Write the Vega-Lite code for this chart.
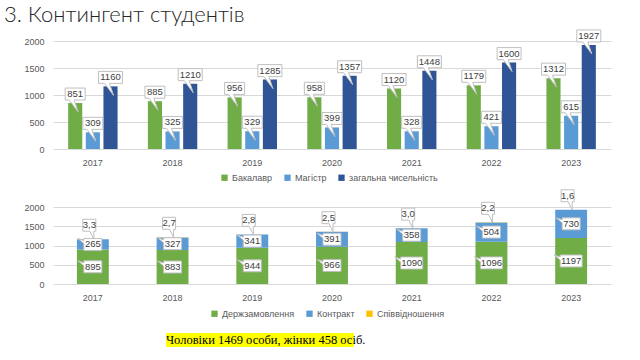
{
  "$schema": "https://vega.github.io/schema/vega-lite/v6.json",
  "background": "white",
  "padding": {"left": 3, "top": 3, "right": 5, "bottom": 0},
  "title": {"text": "3. Контингент студентів", "anchor": "start", "frame": "bounds", "font": "Lato", "fontSize": 22, "fontWeight": 300, "color": "#262626", "offset": 1, "dx": -20},
  "config": {
    "view": {"stroke": null},
    "font": "Liberation Sans",
    "axis": {"labelFont": "Liberation Sans", "labelFontSize": 9, "labelColor": "#595959", "gridColor": "#D9D9D9", "domain": false, "ticks": false, "title": null},
    "legend": {"labelFont": "Liberation Sans", "labelFontSize": 9, "labelColor": "#595959"}
  },
  "datasets": {
    "top": [
      {"year": "2017", "series": "Бакалавр", "value": 851},
      {"year": "2017", "series": "Магістр", "value": 309},
      {"year": "2017", "series": "загальна чисельність", "value": 1160},
      {"year": "2018", "series": "Бакалавр", "value": 885},
      {"year": "2018", "series": "Магістр", "value": 325},
      {"year": "2018", "series": "загальна чисельність", "value": 1210},
      {"year": "2019", "series": "Бакалавр", "value": 956},
      {"year": "2019", "series": "Магістр", "value": 329},
      {"year": "2019", "series": "загальна чисельність", "value": 1285},
      {"year": "2020", "series": "Бакалавр", "value": 958},
      {"year": "2020", "series": "Магістр", "value": 399},
      {"year": "2020", "series": "загальна чисельність", "value": 1357},
      {"year": "2021", "series": "Бакалавр", "value": 1120},
      {"year": "2021", "series": "Магістр", "value": 328},
      {"year": "2021", "series": "загальна чисельність", "value": 1448},
      {"year": "2022", "series": "Бакалавр", "value": 1179},
      {"year": "2022", "series": "Магістр", "value": 421},
      {"year": "2022", "series": "загальна чисельність", "value": 1600},
      {"year": "2023", "series": "Бакалавр", "value": 1312},
      {"year": "2023", "series": "Магістр", "value": 615},
      {"year": "2023", "series": "загальна чисельність", "value": 1927}
    ],
    "bottom": [
      {"year": "2017", "series": "Держзамовлення", "value": 895},
      {"year": "2017", "series": "Контракт", "value": 265},
      {"year": "2017", "series": "Співвідношення", "value": 3.3},
      {"year": "2018", "series": "Держзамовлення", "value": 883},
      {"year": "2018", "series": "Контракт", "value": 327},
      {"year": "2018", "series": "Співвідношення", "value": 2.7},
      {"year": "2019", "series": "Держзамовлення", "value": 944},
      {"year": "2019", "series": "Контракт", "value": 341},
      {"year": "2019", "series": "Співвідношення", "value": 2.8},
      {"year": "2020", "series": "Держзамовлення", "value": 966},
      {"year": "2020", "series": "Контракт", "value": 391},
      {"year": "2020", "series": "Співвідношення", "value": 2.5},
      {"year": "2021", "series": "Держзамовлення", "value": 1090},
      {"year": "2021", "series": "Контракт", "value": 358},
      {"year": "2021", "series": "Співвідношення", "value": 3.0},
      {"year": "2022", "series": "Держзамовлення", "value": 1096},
      {"year": "2022", "series": "Контракт", "value": 504},
      {"year": "2022", "series": "Співвідношення", "value": 2.2},
      {"year": "2023", "series": "Держзамовлення", "value": 1197},
      {"year": "2023", "series": "Контракт", "value": 730},
      {"year": "2023", "series": "Співвідношення", "value": 1.6}
    ]
  },
  "resolve": {"scale": {"color": "independent", "x": "independent", "y": "independent"}, "legend": {"color": "independent"}},
  "spacing": 4,
  "vconcat": [
    {
      "width": 558,
      "height": 108,
      "data": {"name": "top"},
      "encoding": {
        "x": {"field": "year", "type": "nominal", "scale": {"paddingInner": 0.38, "paddingOuter": 0.19}, "axis": {"labelAngle": 0, "labelPadding": 9}},
        "xOffset": {"field": "series", "type": "nominal", "scale": {"domain": ["Бакалавр", "Магістр", "загальна чисельність"], "paddingInner": 0.2}},
        "y": {"field": "value", "type": "quantitative", "scale": {"domain": [0, 2000]}, "axis": {"values": [0, 500, 1000, 1500, 2000], "format": "d", "labelPadding": 9}}
      },
      "layer": [
        {
          "mark": {"type": "bar"},
          "encoding": {
            "color": {"field": "series", "type": "nominal", "scale": {"domain": ["Бакалавр", "Магістр", "загальна чисельність"], "range": ["#70AD47", "#5B9BD5", "#2F5597"]},
              "legend": {"title": null, "orient": "none", "legendX": 167, "legendY": 132, "direction": "horizontal", "symbolType": "square", "symbolSize": 40, "symbolStrokeWidth": 0, "columnPadding": 10, "labelOffset": 3}}
          }
        },
        {
          "mark": {"type": "point", "filled": true, "fill": "white", "stroke": "#BFBFBF", "strokeWidth": 1, "size": 4, "opacity": 1},
          "encoding": {"shape": {"condition": {"test": "datum.value >= 1000", "value": "M-12,-15H12V-3H-1L3,9L-6,-3H-12Z"}, "value": "M-10,-15H10V-3H-1L3,9L-6,-3H-10Z"}}
        },
        {
          "mark": {"type": "text", "fontSize": 9.5, "color": "#404040", "baseline": "middle", "dy": -9},
          "encoding": {"text": {"field": "value", "type": "quantitative", "format": "d"}}
        }
      ]
    },
    {
      "width": 558,
      "height": 77,
      "data": {"name": "bottom"},
      "transform": [
        {"stack": "value", "groupby": ["year"], "sort": [{"field": "series", "order": "ascending"}], "as": ["v0", "v1"]},
        {"calculate": "(datum.v0 + datum.v1) / 2", "as": "mid"},
        {"calculate": "datum.series === 'Співвідношення' ? replace(format(datum.value, '.1f'), '.', ',') : format(datum.value, 'd')", "as": "label"}
      ],
      "encoding": {
        "x": {"field": "year", "type": "nominal", "scale": {"paddingInner": 0.6, "paddingOuter": 0.3}, "axis": {"labelAngle": 0, "labelPadding": 9}}
      },
      "layer": [
        {
          "mark": {"type": "bar"},
          "encoding": {
            "y": {"field": "v1", "type": "quantitative", "scale": {"domain": [0, 2000]}, "axis": {"values": [0, 500, 1000, 1500, 2000], "format": "d", "labelPadding": 9}},
            "y2": {"field": "v0"},
            "color": {"field": "series", "type": "nominal", "scale": {"domain": ["Держзамовлення", "Контракт", "Співвідношення"], "range": ["#70AD47", "#5B9BD5", "#FFC000"]},
              "legend": {"title": null, "orient": "none", "legendX": 157, "legendY": 102, "direction": "horizontal", "symbolType": "square", "symbolSize": 40, "symbolStrokeWidth": 0, "columnPadding": 10, "labelOffset": 3}}
          }
        },
        {
          "transform": [{"filter": "datum.series !== 'Співвідношення'"}],
          "mark": {"type": "point", "filled": true, "fill": "white", "stroke": "#BFBFBF", "strokeWidth": 1, "size": 4, "opacity": 1},
          "encoding": {
            "y": {"field": "mid", "type": "quantitative", "scale": {"domain": [0, 2000]}, "axis": {"values": [0, 500, 1000, 1500, 2000], "format": "d", "labelPadding": 9}},
            "shape": {"condition": {"test": "datum.value >= 1000", "value": "M-11,-6H11V6H-11V-1L-17,-6L-11,-4Z"}, "value": "M-9,-6H9V6H-9V-1L-15,-6L-9,-4Z"}
          }
        },
        {
          "transform": [{"filter": "datum.series !== 'Співвідношення'"}],
          "mark": {"type": "text", "fontSize": 9.5, "color": "#404040", "baseline": "middle"},
          "encoding": {"y": {"field": "mid", "type": "quantitative", "scale": {"domain": [0, 2000]}, "axis": {"values": [0, 500, 1000, 1500, 2000], "format": "d", "labelPadding": 9}}, "text": {"field": "label"}}
        },
        {
          "transform": [{"filter": "datum.series === 'Співвідношення'"}],
          "mark": {"type": "point", "filled": true, "fill": "white", "stroke": "#BFBFBF", "strokeWidth": 1, "size": 4, "opacity": 1, "shape": "M-10,-20H3V-8H1L1,0L-3,-8H-10Z"},
          "encoding": {"y": {"field": "v1", "type": "quantitative", "scale": {"domain": [0, 2000]}, "axis": {"values": [0, 500, 1000, 1500, 2000], "format": "d", "labelPadding": 9}}}
        },
        {
          "transform": [{"filter": "datum.series === 'Співвідношення'"}],
          "mark": {"type": "text", "fontSize": 9.5, "color": "#404040", "baseline": "middle", "dx": -3.5, "dy": -14},
          "encoding": {"y": {"field": "v1", "type": "quantitative", "scale": {"domain": [0, 2000]}, "axis": {"values": [0, 500, 1000, 1500, 2000], "format": "d", "labelPadding": 9}}, "text": {"field": "label"}}
        }
      ]
    },
    {
      "width": 414,
      "height": 34,
      "data": {"values": [{"note": "Чоловіки 1469 особи, жінки 458 осіб."}]},
      "layer": [
        {"mark": {"type": "point", "filled": true, "fill": "#FFFF00", "strokeWidth": 0, "size": 4, "opacity": 1, "shape": "M-94,-7H94V7H-94Z"}, "encoding": {}},
        {"mark": {"type": "text", "font": "Liberation Serif", "fontSize": 12.5, "color": "black", "align": "left", "dx": -94, "baseline": "middle"}, "encoding": {"text": {"field": "note"}}}
      ]
    }
  ]
}
